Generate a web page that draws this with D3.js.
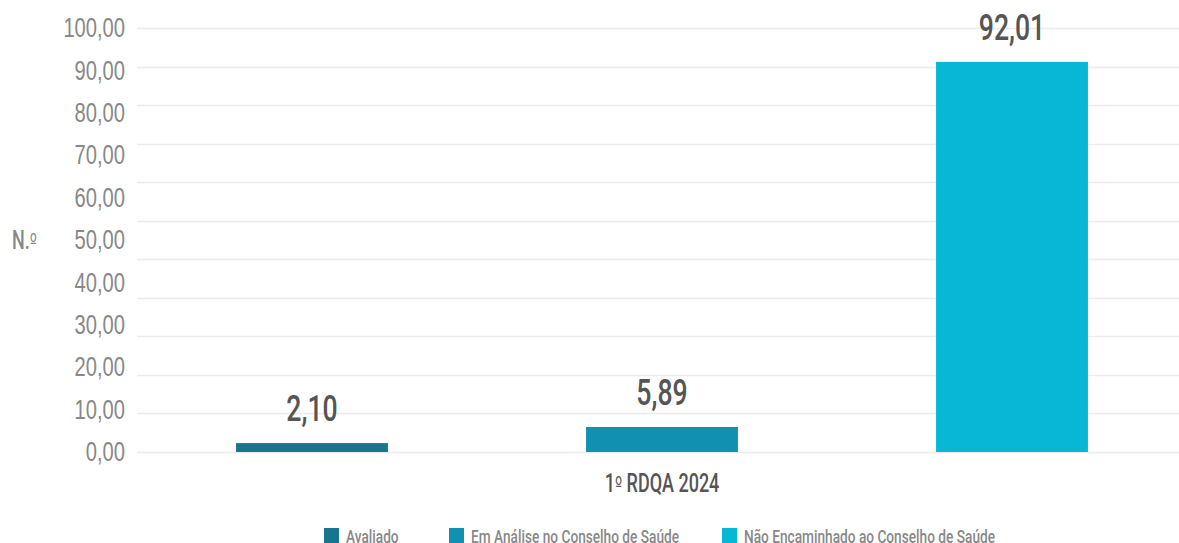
<!DOCTYPE html>
<meta charset="utf-8">
<style>
    body { margin: 0; background: #fff; }
    svg { display: block; font-family: "Roboto", "DejaVu Sans Condensed", sans-serif; }
    .ord { font-family: "DejaVu Sans", sans-serif; font-size: 0.85em; }
</style>
<svg width="1179" height="543"></svg>
<script src="https://cdn.jsdelivr.net/npm/d3@7"></script>
<script>
    var categoria = ["1", "º", " RDQA 2024"];
    var series = ["Avaliado", "Em Análise no Conselho de Saúde", "Não Encaminhado ao Conselho de Saúde"];
    var valores = [2.10, 5.89, 92.01];
    var cores = ["#18758f", "#1190b2", "#08b7d6"];
    var ticks = [0, 10, 20, 30, 40, 50, 60, 70, 80, 90, 100];
    var nLinhas = 11; // a grelha do original tem 11 intervalos, não 10

    var svg = d3.select("svg");
    var fmt = function (v) { return v.toFixed(2).replace(".", ","); };
    var estreito = "scale(0.72,1)"; // imita a fonte condensada do original

    // texto condensado posicionado em (x, y)
    function texto(sel, x, y) {
        return sel.append("g")
            .attr("transform", "translate(" + x + "," + y + ")")
            .append("text")
            .attr("transform", estreito);
    }

    var y = d3.scaleLinear().domain([0, 100]).range([452, 28]);
    var x = d3.scaleBand().domain(series).range([137, 1187])
        .paddingInner(0.566).paddingOuter(0.283);

    // grelha
    svg.append("g").selectAll("line")
        .data(d3.range(nLinhas + 1))
        .enter().append("line")
        .attr("x1", 137).attr("x2", 1179)
        .attr("y1", function (d) { return Math.round(y(100 * d / nLinhas)) + 0.5; })
        .attr("y2", function (d) { return Math.round(y(100 * d / nLinhas)) + 0.5; })
        .attr("stroke", "#ebebeb").attr("stroke-width", 1.5);

    // eixo y
    var eixo = svg.append("g")
        .attr("transform", "translate(125,0)")
        .call(d3.axisLeft(y).tickValues(ticks).tickFormat(fmt).tickSize(0).tickPadding(0));
    eixo.select(".domain").remove();
    eixo.selectAll("text")
        .attr("font-family", null)
        .attr("x", 0)
        .attr("transform", estreito)
        .attr("font-size", 28).attr("font-weight", 500).attr("fill", "#888")
        .attr("dy", "0.31em");

    var ny = texto(svg, 12, 249)
        .attr("font-size", 25).attr("font-weight", 500).attr("fill", "#888");
    ny.append("tspan").text("N.");
    ny.append("tspan").attr("class", "ord").text("º");

    // barras
    svg.append("g").selectAll("rect")
        .data(valores)
        .enter().append("rect")
        .attr("x", function (d, i) { return x(series[i]); })
        .attr("width", x.bandwidth())
        .attr("y", function (d) { return y(d); })
        .attr("height", function (d) { return y(0) - y(d); })
        .attr("fill", function (d, i) { return cores[i]; });

    valores.forEach(function (v, i) {
        texto(svg, x(series[i]) + x.bandwidth() / 2, y(v) - 22)
            .attr("text-anchor", "middle")
            .attr("font-size", 37).attr("font-weight", 500).attr("fill", "#555")
            .text(fmt(v));
    });

    var cat = texto(svg, 662, 492)
        .attr("text-anchor", "middle")
        .attr("font-size", 25).attr("font-weight", 500).attr("fill", "#555");
    cat.selectAll("tspan")
        .data(categoria)
        .enter().append("tspan")
        .attr("class", function (d) { return d === "º" ? "ord" : null; })
        .text(function (d) { return d; });

    // legenda
    var legX = [324, 449, 722];
    series.forEach(function (s, i) {
        svg.append("rect")
            .attr("x", legX[i]).attr("y", 528)
            .attr("width", 15).attr("height", 15)
            .attr("fill", cores[i]);
        texto(svg, legX[i] + 22, 543)
            .attr("font-size", 19).attr("font-weight", 500).attr("fill", "#888")
            .text(s);
    });
</script>
